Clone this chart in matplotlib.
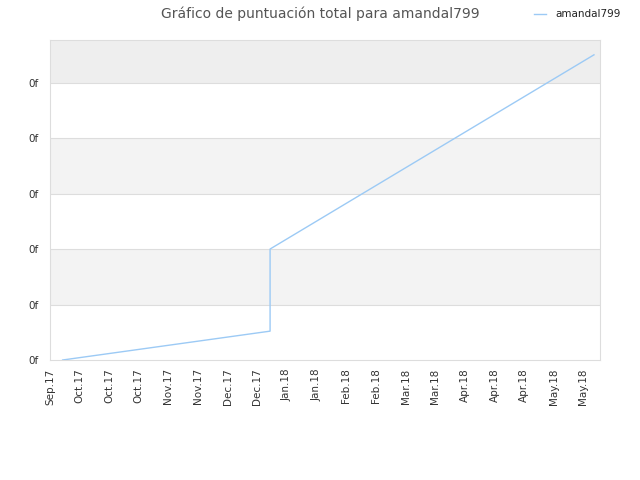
import datetime as dt

import matplotlib
matplotlib.use("Agg")
import matplotlib.pyplot as plt
import matplotlib.dates as mdates
from matplotlib.ticker import FuncFormatter

TITLE = "Gráfico de puntuación total para amandal799"
SERIES_NAME = "amandal799"

dates = [dt.datetime(2017, 9, 23), dt.datetime(2017, 12, 30),
         dt.datetime(2017, 12, 30), dt.datetime(2018, 6, 1)]
scores = [0.0, 0.52, 2.0, 5.5]

X_START = dt.datetime(2017, 9, 17)
X_END = dt.datetime(2018, 6, 4)
Y_MAX = 5.77

LINE_COLOR = "#9ccaf5"
GRID_COLOR = "#dddddd"
TEXT_COLOR = "#333333"

fig = plt.figure(figsize=(6.4, 4.8), dpi=100)
ax = fig.add_axes([0.078, 0.25, 0.86, 0.667])

# alternating bands
ax.axhspan(5, Y_MAX, color="#eeeeee", zorder=0, lw=0)
for lo in (1, 3):
    ax.axhspan(lo, lo + 1, color="#f3f3f3", zorder=0, lw=0)
for y in range(1, 6):
    ax.axhline(y, color=GRID_COLOR, lw=0.8, zorder=1)

ax.plot(dates, scores, color=LINE_COLOR, lw=1.0, zorder=3, label=SERIES_NAME)

ax.set_xlim(X_START, X_END)
ax.set_ylim(0, Y_MAX)
ax.set_yticks(range(0, 6))
ax.yaxis.set_major_formatter(FuncFormatter(lambda v, p: "0f"))

ticks = [X_START + dt.timedelta(days=14 * i) for i in range(19)]
ax.set_xticks(ticks)
ax.xaxis.set_major_formatter(mdates.DateFormatter("%b.%y"))
plt.setp(ax.get_xticklabels(), rotation=90)
ax.tick_params(axis="both", length=0, labelsize=7.5, colors=TEXT_COLOR, pad=6)
ax.tick_params(axis="y", pad=8)

for s in ax.spines.values():
    s.set_color(GRID_COLOR)
    s.set_linewidth(0.8)

fig.text(0.5, 0.972, TITLE, ha="center", va="center", fontsize=10, color="#555555")
leg = ax.legend(loc="upper right", bbox_to_anchor=(1.054, 1.125), frameon=False,
                fontsize=7.5, handlelength=1.1, handletextpad=0.9)
for t in leg.get_texts():
    t.set_color("#222222")

fig.savefig("out.png", dpi=100)
